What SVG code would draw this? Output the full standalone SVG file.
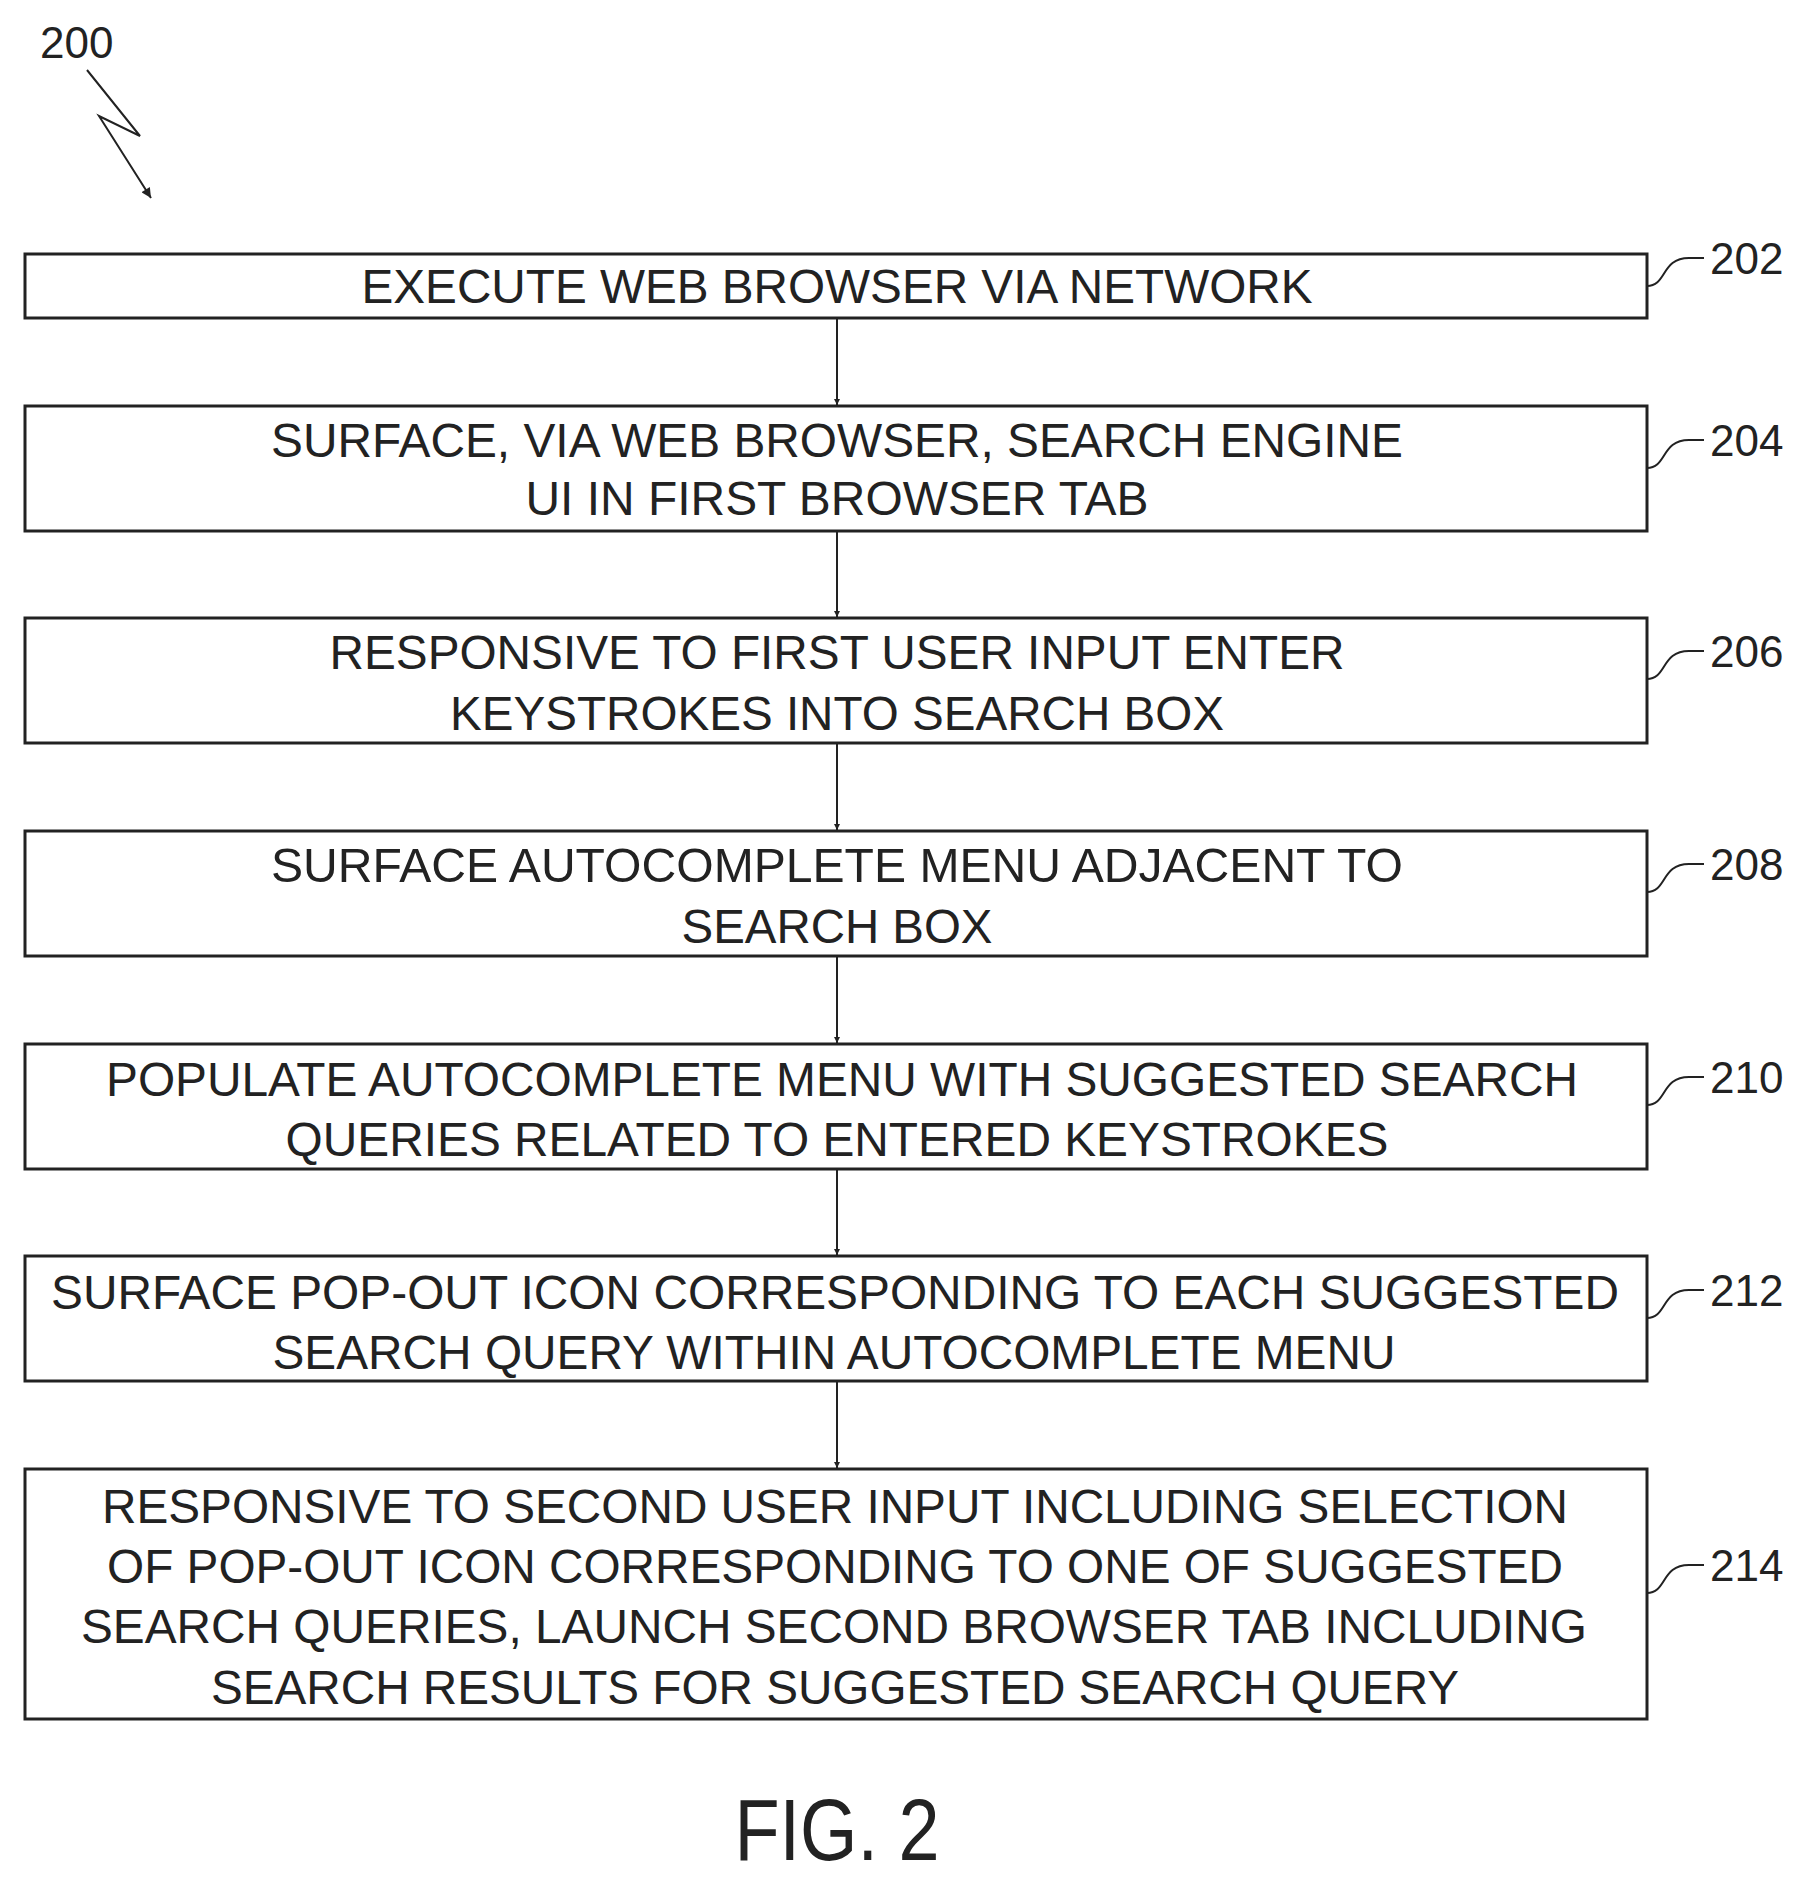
<svg xmlns="http://www.w3.org/2000/svg" width="1805" height="1878" viewBox="0 0 1805 1878">
<style>
.box{fill:#fff;stroke:#222;stroke-width:3}
.t{font-family:"Liberation Sans",Arial,sans-serif;font-size:48px;fill:#222;text-anchor:middle}
.lbl{font-family:"Liberation Sans",Arial,sans-serif;font-size:44px;fill:#222}
.ld{fill:none;stroke:#222;stroke-width:2}
.c{stroke:#222;stroke-width:2;fill:none}
</style>
<defs><marker id="ah" viewBox="0 0 10 10" refX="10" refY="5" markerWidth="6" markerHeight="9" orient="auto" markerUnits="userSpaceOnUse"><path d="M0,0 L10,5 L0,10 z" fill="#222"/></marker>
<marker id="ah2" viewBox="0 0 10 10" refX="10" refY="5" markerWidth="16" markerHeight="10" orient="auto" markerUnits="userSpaceOnUse"><path d="M0,0 L10,5 L0,10 z" fill="#222"/></marker></defs>
<g id="ref200"><text class="lbl" x="40" y="58">200</text><path class="c" d="M87,70 L140,136 L99,116 L151,198" marker-end="url(#ah2)"/></g>
<g id="connectors">
<line class="c" x1="837" y1="318" x2="837" y2="405" marker-end="url(#ah)"/>
<line class="c" x1="837" y1="531" x2="837" y2="617" marker-end="url(#ah)"/>
<line class="c" x1="837" y1="743" x2="837" y2="830" marker-end="url(#ah)"/>
<line class="c" x1="837" y1="956" x2="837" y2="1043" marker-end="url(#ah)"/>
<line class="c" x1="837" y1="1169" x2="837" y2="1255" marker-end="url(#ah)"/>
<line class="c" x1="837" y1="1381" x2="837" y2="1468" marker-end="url(#ah)"/>
</g>
<g id="n202"><rect class="box" x="25" y="254" width="1622" height="64"/><text class="t" x="837" y="303" textLength="951" lengthAdjust="spacingAndGlyphs">EXECUTE WEB BROWSER VIA NETWORK</text><path class="ld" d="M1647,286 C1667,286 1661,258 1689,258 L1704,258"/><text class="lbl" x="1710" y="274">202</text></g>
<g id="n204"><rect class="box" x="25" y="406" width="1622" height="125"/><text class="t" x="837" y="457" textLength="1132" lengthAdjust="spacingAndGlyphs">SURFACE, VIA WEB BROWSER, SEARCH ENGINE</text><text class="t" x="837" y="515" textLength="623" lengthAdjust="spacingAndGlyphs">UI IN FIRST BROWSER TAB</text><path class="ld" d="M1647,468 C1667,468 1661,440 1689,440 L1704,440"/><text class="lbl" x="1710" y="456">204</text></g>
<g id="n206"><rect class="box" x="25" y="618" width="1622" height="125"/><text class="t" x="837" y="669" textLength="1015" lengthAdjust="spacingAndGlyphs">RESPONSIVE TO FIRST USER INPUT ENTER</text><text class="t" x="837" y="730" textLength="774" lengthAdjust="spacingAndGlyphs">KEYSTROKES INTO SEARCH BOX</text><path class="ld" d="M1647,679 C1667,679 1661,651 1689,651 L1704,651"/><text class="lbl" x="1710" y="667">206</text></g>
<g id="n208"><rect class="box" x="25" y="831" width="1622" height="125"/><text class="t" x="837" y="882" textLength="1132" lengthAdjust="spacingAndGlyphs">SURFACE AUTOCOMPLETE MENU ADJACENT TO</text><text class="t" x="837" y="943" textLength="311" lengthAdjust="spacingAndGlyphs">SEARCH BOX</text><path class="ld" d="M1647,892 C1667,892 1661,864 1689,864 L1704,864"/><text class="lbl" x="1710" y="880">208</text></g>
<g id="n210"><rect class="box" x="25" y="1044" width="1622" height="125"/><text class="t" x="842" y="1096" textLength="1472" lengthAdjust="spacingAndGlyphs">POPULATE AUTOCOMPLETE MENU WITH SUGGESTED SEARCH</text><text class="t" x="837" y="1156" textLength="1103" lengthAdjust="spacingAndGlyphs">QUERIES RELATED TO ENTERED KEYSTROKES</text><path class="ld" d="M1647,1105 C1667,1105 1661,1077 1689,1077 L1704,1077"/><text class="lbl" x="1710" y="1093">210</text></g>
<g id="n212"><rect class="box" x="25" y="1256" width="1622" height="125"/><text class="t" x="835" y="1309" textLength="1568" lengthAdjust="spacingAndGlyphs">SURFACE POP-OUT ICON CORRESPONDING TO EACH SUGGESTED</text><text class="t" x="834" y="1369" textLength="1123" lengthAdjust="spacingAndGlyphs">SEARCH QUERY WITHIN AUTOCOMPLETE MENU</text><path class="ld" d="M1647,1318 C1667,1318 1661,1290 1689,1290 L1704,1290"/><text class="lbl" x="1710" y="1306">212</text></g>
<g id="n214"><rect class="box" x="25" y="1469" width="1622" height="250"/><text class="t" x="835" y="1523" textLength="1466" lengthAdjust="spacingAndGlyphs">RESPONSIVE TO SECOND USER INPUT INCLUDING SELECTION</text><text class="t" x="835" y="1583" textLength="1456" lengthAdjust="spacingAndGlyphs">OF POP-OUT ICON CORRESPONDING TO ONE OF SUGGESTED</text><text class="t" x="834" y="1643" textLength="1506" lengthAdjust="spacingAndGlyphs">SEARCH QUERIES, LAUNCH SECOND BROWSER TAB INCLUDING</text><text class="t" x="835" y="1704" textLength="1248" lengthAdjust="spacingAndGlyphs">SEARCH RESULTS FOR SUGGESTED SEARCH QUERY</text><path class="ld" d="M1647,1593 C1667,1593 1661,1565 1689,1565 L1704,1565"/><text class="lbl" x="1710" y="1581">214</text></g>
<text class="t" x="837" y="1860" style="font-size:88px" textLength="205" lengthAdjust="spacingAndGlyphs">FIG. 2</text>
</svg>
